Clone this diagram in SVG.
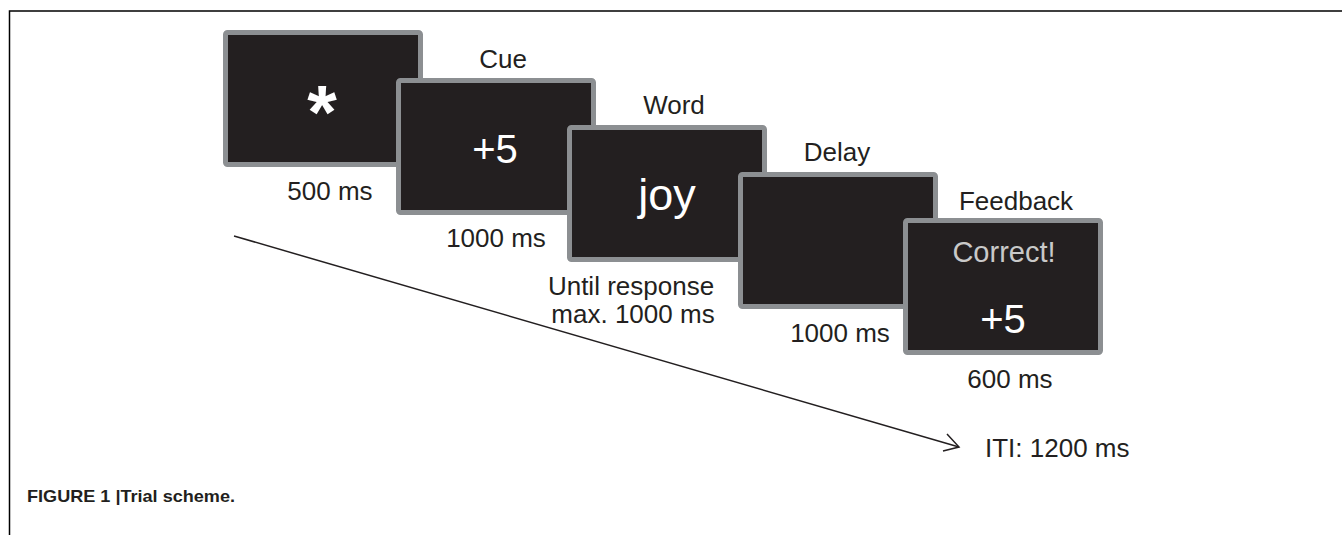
<svg xmlns="http://www.w3.org/2000/svg" width="1342" height="535" viewBox="0 0 1342 535">
  <style>
    .scr { fill: #231f20; stroke: #8c8f92; stroke-width: 5; }
    .lbl { font-family: "Liberation Sans", Arial, sans-serif; font-size: 26px; fill: #231f20; text-anchor: middle; }
    .in { font-family: "Liberation Sans", Arial, sans-serif; fill: #ffffff; text-anchor: middle; }
    .cap { font-family: "Liberation Sans", Arial, sans-serif; font-size: 17px; font-weight: bold; fill: #231f20; }
  </style>
  <rect width="1342" height="535" fill="#ffffff"/>
  <polyline points="9.5,535 9.5,11 1342,11" fill="none" stroke="#000000" stroke-width="1.5"/>

  <g id="connectors">
    <line x1="234" y1="236" x2="959" y2="447" stroke="#231f20" stroke-width="1.5"/>
    <polyline points="947,434 959,447 943,451" fill="none" stroke="#231f20" stroke-width="1.5"/>
  </g>

  <g id="fixation">
    <rect class="scr" x="225.5" y="32.5" width="195" height="132" rx="2"/>
    <text class="in" x="322" y="138" font-size="76" font-weight="bold">*</text>
    <text class="lbl" x="330" y="200">500 ms</text>
  </g>

  <g id="cue">
    <text class="lbl" x="503" y="68">Cue</text>
    <rect class="scr" x="398.5" y="80.5" width="195" height="132" rx="2"/>
    <text class="in" x="495" y="163" font-size="40">+5</text>
    <text class="lbl" x="496" y="247">1000 ms</text>
  </g>

  <g id="word">
    <text class="lbl" x="674" y="114">Word</text>
    <rect class="scr" x="569.5" y="127.5" width="195" height="132" rx="2"/>
    <text class="in" x="667" y="210" font-size="45">joy</text>
    <text class="lbl" x="631" y="295">Until response</text>
    <text class="lbl" x="633" y="323">max. 1000 ms</text>
  </g>

  <g id="delay">
    <text class="lbl" x="837" y="161">Delay</text>
    <rect class="scr" x="740.5" y="174.5" width="195" height="132" rx="2"/>
    <text class="lbl" x="840" y="342">1000 ms</text>
  </g>

  <g id="feedback">
    <text class="lbl" x="1016" y="210">Feedback</text>
    <rect class="scr" x="905.5" y="220.5" width="195" height="132" rx="2"/>
    <text class="in" x="1004" y="262" font-size="29" style="fill:#c9c9c9">Correct!</text>
    <text class="in" x="1003" y="333" font-size="40">+5</text>
    <text class="lbl" x="1010" y="388">600 ms</text>
  </g>

  <g id="iti">
    <text class="lbl" x="985" y="457" style="text-anchor:start">ITI: 1200 ms</text>
  </g>

  <text class="cap" x="27" y="502" textLength="208" lengthAdjust="spacingAndGlyphs">FIGURE 1 |Trial scheme.</text>
</svg>
